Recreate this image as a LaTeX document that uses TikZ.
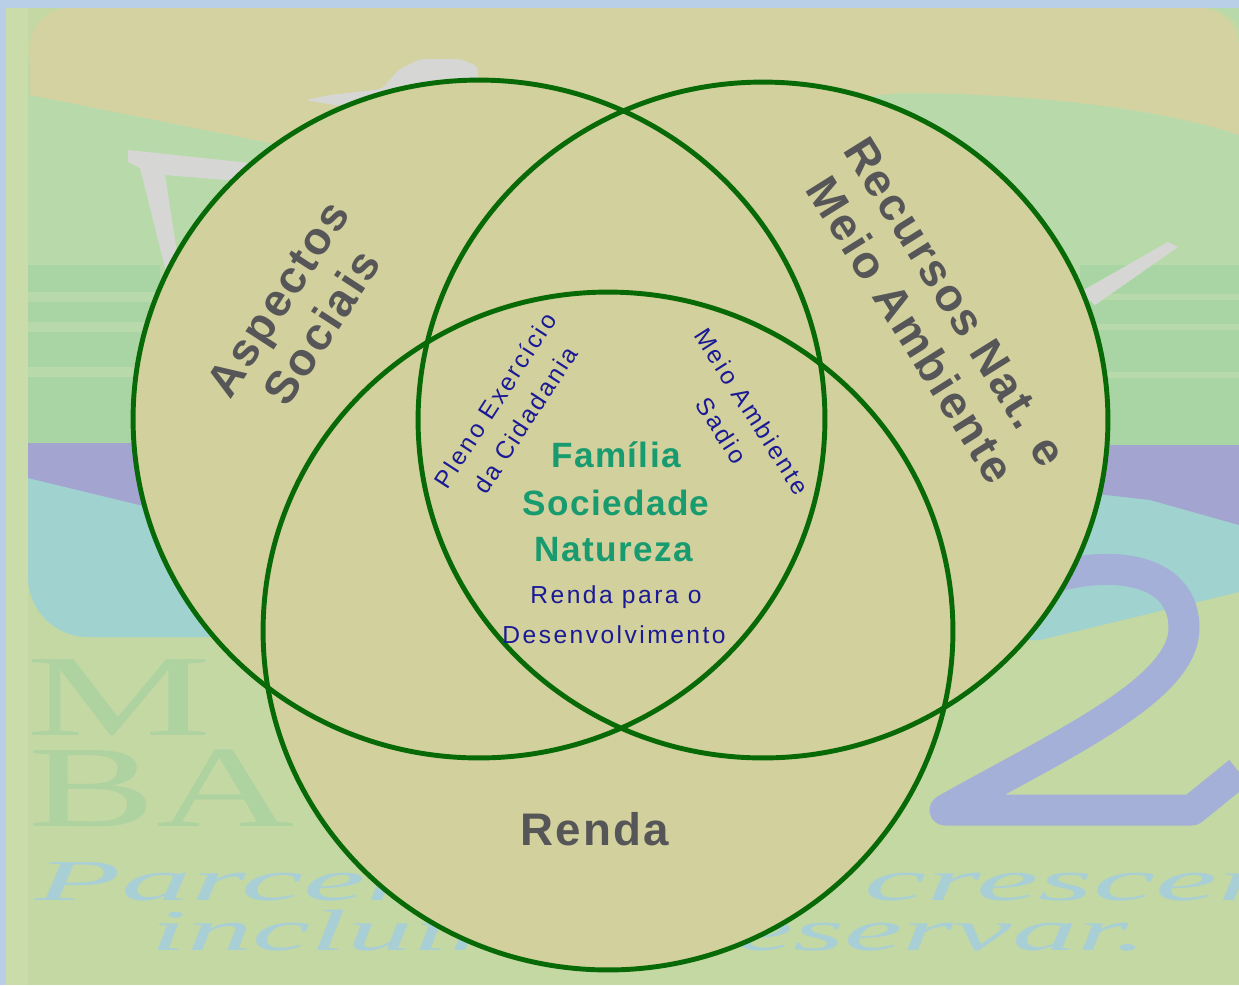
\documentclass[tikz,border=0pt]{standalone}
\usepackage{fontspec}
\setmainfont{Liberation Sans}
\newfontfamily\lserif{Liberation Serif}
\definecolor{frameblue}{HTML}{B9CFE7}
\definecolor{bgbase}{HTML}{C4D8A3}
\definecolor{bgedge}{HTML}{C9DCA9}
\definecolor{tanbg}{HTML}{D4D2A1}
\definecolor{greenup}{HTML}{B8DAAA}
\definecolor{greenband}{HTML}{A9D5A4}
\definecolor{greybg}{HTML}{D6D7D4}
\definecolor{purplebg}{HTML}{A3A4D0}
\definecolor{cyanbg}{HTML}{A0D2D0}
\definecolor{twocol}{HTML}{A4B0D8}
\definecolor{mbcol}{HTML}{AED2A0}
\definecolor{slogancol}{HTML}{A9CFD6}
\definecolor{circfill}{HTML}{D2D09C}
\definecolor{circline}{HTML}{076A07}
\definecolor{graytext}{HTML}{565658}
\definecolor{coreteal}{HTML}{179B6F}
\definecolor{navytext}{HTML}{1A1A96}
\tikzset{
  biglabel/.style={font=\bfseries\fontsize{26}{30}\selectfont\addfontfeatures{LetterSpace=5}, text=graytext, align=center, inner sep=0pt},
  corelabel/.style={font=\bfseries\fontsize{20}{24}\selectfont\addfontfeatures{LetterSpace=4}, text=coreteal, inner sep=0pt, anchor=base},
  smalllabel/.style={font=\fontsize{14}{20.4}\selectfont\addfontfeatures{LetterSpace=10}, text=navytext, align=center, inner sep=0pt},
  bgtext/.style={inner sep=0pt, anchor=base west},
  vennline/.style={draw=circline, line width=2.8pt},
}
\begin{document}
\begin{tikzpicture}[x=0.02cm,y=-0.02cm]
\useasboundingbox (0,0) rectangle (1239,985);
% ---------- background (faded logo) ----------
\fill[frameblue] (0,0) rectangle (1239,985);
\fill[bgbase] (6,8) rectangle (1239,985);
\fill[bgedge] (6,8) rectangle (28,985);
\fill[greenup] (28,60) rectangle (1239,445);
\fill[tanbg] (30,95) [rounded corners=0.8cm] -- (30,8) -- (1239,8) [sharp corners] -- (1239,135)
   .. controls (1150,105) and (1010,93) .. (900,93) -- (600,125) -- (270,143) -- cycle;
\fill[greenup] (1212,8) .. controls (1225,12) and (1235,20) .. (1239,28) -- (1239,8) -- cycle;
% stripes
\foreach \ya/\yb in {265/292,302/322,332/367,377/443}
  \fill[greenband] (28,\ya) rectangle (160,\yb);
\foreach \ya/\yb in {265/294,300/324,330/372,378/445}
  \fill[greenband] (1080,\ya) rectangle (1239,\yb);
% grey shapes
\fill[greybg] (128,150) -- (250,163) -- (250,182) -- (165,175) -- (180,272) -- (166,272) -- (140,168) -- (128,162) -- cycle;
\fill[greybg, rounded corners=0.1cm] (305,100) -- (330,95) -- (382,89) -- (398,70) -- (420,59) -- (460,59) -- (478,66) -- (478,82) -- (440,88) -- (400,97) -- (340,106) -- cycle;
\fill[greybg] (1080,292) -- (1168,242) -- (1178,247) -- (1095,305) -- cycle;
% left purple and cyan
\fill[cyanbg] (28,476) -- (230,520) -- (230,637) [rounded corners=1.2cm] -- (28,637) [sharp corners] -- (28,476) -- cycle;
\fill[purplebg] (28,443) -- (160,443) -- (160,510) -- (28,478) -- cycle;
% right cyan, purple and the big 2
\fill[cyanbg] (990,480) -- (1239,480) -- (1239,592) -- (1040,640) -- (990,640) -- cycle;
\fill[purplebg] (1080,445) -- (1239,445) -- (1239,525) -- (1150,500) -- (1080,492) -- cycle;
\draw[twocol, line width=0.62cm, line join=round]
  (1050,578) .. controls (1120,558) and (1184,572) .. (1184,628)
  .. controls (1184,690) and (1060,745) .. (945,810) -- (1192,810) -- (1239,772);
% faded words
\node[bgtext, font=\lserif\fontsize{66}{66}\selectfont, text=mbcol, xscale=1.8] (wm) at (26,735) {M};
\node[bgtext, font=\lserif\fontsize{66}{66}\selectfont, text=mbcol, xscale=1.65] (wba) at (28,826) {BA};
\node[bgtext, font=\lserif\itshape\fontsize{33}{33}\selectfont, text=slogancol, xscale=2.42] (s1) at (35,900) {Parceria para crescer,};
\node[bgtext, font=\lserif\itshape\fontsize{33}{33}\selectfont, text=slogancol, xscale=2.26] (s2) at (150,950) {incluir e preservar.};
% ---------- Venn circles ----------
\coordinate (cA) at (479,419);
\coordinate (cB) at (763,420);
\coordinate (cC) at (608,631);
\fill[circfill] (cA) ellipse [x radius=6.92cm, y radius=6.78cm];
\fill[circfill] (cB) ellipse [x radius=6.90cm, y radius=6.76cm];
\fill[circfill] (cC) ellipse [x radius=6.90cm, y radius=6.78cm];
\path[vennline] (cA) ellipse [x radius=6.92cm, y radius=6.78cm];
\path[vennline] (cB) ellipse [x radius=6.90cm, y radius=6.76cm];
\path[vennline] (cC) ellipse [x radius=6.90cm, y radius=6.78cm];
% ---------- labels ----------
\node[biglabel, rotate=57] (social) at (300,313) {Aspectos\\Sociais};
\node[biglabel, rotate=-58] (recursos) at (933,316) {Recursos Nat. e\\Meio Ambiente};
\node[biglabel, anchor=base] (renda) at (595,845) {Renda};
\node[smalllabel, rotate=57] (pleno) at (510,410) {Pleno Exercício\\da Cidadania};
\node[smalllabel, rotate=-57.5] (meio) at (737,421) {Meio Ambiente\\Sadio};
\node[corelabel] (familia) at (616,467) {Família};
\node[corelabel] (sociedade) at (616,515) {Sociedade};
\node[corelabel] (natureza) at (614,561) {Natureza};
\node[smalllabel, anchor=base] (rendapara) at (616,603) {Renda para o};
\node[smalllabel, anchor=base] (desenv) at (614,643) {Desenvolvimento};
\end{tikzpicture}
\end{document}
